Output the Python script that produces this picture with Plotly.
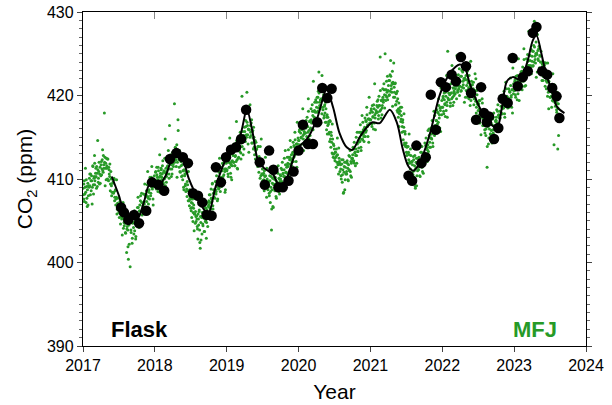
import datetime as dt
import plotly.graph_objects as go

# ---------------- data ----------------
# MFJ observations: per year, one list per month.
# Set A sampled every 3 days from day 1, set B every 3 days from day 2.
mfj_2017 = [
    [408.9, 407.6, 409.8, 408.2, 411.3, 407.2, 409.1, 406.7, 409.5, 408.0],
    [409.0, 410.6, 408.1, 409.8, 410.4, 407.0, 411.6, 409.3, 410.1, 412.8],
    [411.9, 410.2, 411.3, 408.9, 410.7, 414.6, 409.6, 410.9, 409.4, 411.4],
    [410.4, 412.1, 411.2, 413.5, 410.8, 411.7, 417.9, 412.6, 411.3, 409.9],
    [411.6, 410.0, 412.4, 409.8, 411.1, 410.3, 408.6, 410.9, 409.2, 408.4],
    [409.5, 408.3, 410.1, 407.4, 408.6, 406.9, 407.8, 405.8, 407.1, 406.3],
    [406.9, 405.4, 407.3, 404.6, 406.0, 405.2, 403.3, 405.7, 404.1, 404.8],
    [404.8, 403.6, 405.9, 401.2, 404.3, 403.9, 400.4, 404.5, 405.3, 399.5],
    [403.9, 405.1, 402.3, 404.7, 405.6, 403.4, 406.2, 404.9, 402.8, 405.8],
    [405.3, 406.6, 407.8, 405.1, 404.2, 406.9, 407.4, 406.1, 408.3, 405.7],
    [406.8, 408.2, 407.3, 409.4, 406.5, 407.9, 408.6, 406.2, 410.9, 407.7],
    [408.4, 409.7, 410.2, 408.0, 409.3, 411.5, 408.8, 407.6, 410.0, 409.1],
]
mfj_2017_b = [
    [408.1, 409.4, 407.3, 409.0, 408.4, 409.9, 407.7, 408.7, 406.9, 409.2],
    [410.1, 409.2, 410.6, 408.6, 409.8, 409.0, 411.5, 408.2, 410.3, 409.3],
    [409.8, 410.7, 410.3, 411.5, 409.1, 411.1, 410.1, 412.0, 410.6, 409.5],
    [411.7, 410.5, 412.3, 411.0, 412.8, 411.3, 412.0, 409.2, 411.9, 412.5],
    [411.3, 412.4, 409.9, 411.4, 410.6, 411.8, 409.4, 410.0, 408.0, 410.1],
    [409.6, 408.4, 409.9, 407.8, 408.7, 407.6, 409.9, 406.4, 407.7, 406.6],
    [406.0, 406.7, 406.1, 407.1, 405.5, 406.4, 405.3, 407.2, 405.6, 404.4],
    [404.7, 403.5, 405.3, 404.0, 405.8, 401.9, 405.0, 402.2, 404.9, 405.5],
    [403.6, 404.9, 402.9, 404.8, 404.2, 405.8, 403.8, 404.9, 403.1, 405.5],
    [405.9, 405.1, 406.6, 404.9, 406.2, 405.8, 408.0, 404.9, 407.2, 406.3],
    [406.2, 407.2, 407.0, 408.1, 405.9, 408.1, 407.3, 409.3, 407.9, 407.0],
    [408.7, 407.6, 409.5, 408.3, 410.2, 409.0, 409.7, 406.9, 409.7, 410.4],
]
mfj_2018 = [
    [409.6, 410.8, 409.1, 411.4, 410.2, 408.5, 411.0, 409.8, 412.9, 410.4],
    [411.3, 409.9, 410.6, 412.2, 409.4, 411.0, 410.1, 414.8, 410.7, 409.6],
    [410.9, 412.3, 411.6, 413.4, 410.6, 416.4, 411.9, 412.8, 410.3, 411.2],
    [413.2, 411.8, 412.9, 419.0, 412.4, 413.7, 411.5, 414.1, 412.0, 417.1],
    [412.6, 411.4, 413.0, 410.8, 412.1, 410.3, 411.7, 409.9, 411.0, 408.7],
    [410.4, 409.2, 408.5, 410.7, 407.9, 409.3, 407.4, 408.6, 406.8, 407.7],
    [407.6, 406.2, 405.4, 407.1, 404.9, 406.5, 403.8, 405.8, 404.7, 405.5],
    [405.6, 404.3, 402.8, 405.2, 406.1, 403.9, 401.7, 404.8, 405.5, 403.4],
    [404.6, 406.0, 405.3, 403.7, 406.6, 405.0, 402.9, 406.3, 407.2, 405.8],
    [406.9, 408.1, 407.2, 405.9, 408.8, 407.6, 409.4, 406.8, 408.3, 411.2],
    [408.5, 409.7, 408.2, 410.4, 409.1, 407.6, 410.0, 408.9, 412.5, 409.4],
    [410.0, 411.4, 409.6, 411.9, 410.3, 412.8, 409.8, 410.9, 408.7, 411.2],
]
mfj_2018_b = [
    [409.6, 410.9, 408.8, 410.5, 409.9, 411.4, 409.2, 410.2, 408.4, 410.7],
    [411.1, 410.2, 411.6, 409.6, 410.8, 410.0, 412.5, 409.2, 411.3, 410.3],
    [410.6, 411.5, 411.2, 412.4, 410.1, 412.2, 411.2, 412.9, 411.7, 410.6],
    [412.7, 411.5, 413.3, 412.0, 413.8, 412.3, 413.0, 410.2, 412.9, 415.8],
    [412.3, 413.4, 410.9, 412.4, 411.6, 412.8, 410.4, 411.0, 409.0, 411.1],
    [410.6, 409.4, 410.9, 408.8, 409.7, 408.6, 410.9, 407.4, 408.7, 407.6],
    [406.5, 407.2, 406.6, 407.6, 406.0, 406.9, 405.8, 407.7, 406.1, 404.9],
    [405.2, 404.0, 405.8, 404.5, 406.3, 402.4, 405.5, 402.7, 405.4, 406.0],
    [404.4, 405.8, 403.7, 405.5, 404.9, 406.5, 404.8, 406.0, 404.3, 406.7],
    [407.4, 406.6, 408.1, 406.4, 407.7, 407.3, 409.5, 406.4, 408.7, 407.8],
    [407.7, 408.7, 408.5, 409.6, 407.4, 409.6, 408.8, 410.8, 409.4, 408.5],
    [410.2, 409.1, 411.0, 409.8, 411.7, 410.5, 411.2, 408.4, 411.2, 411.9],
]
mfj_2019 = [
    [411.0, 412.3, 410.6, 412.8, 411.4, 414.9, 411.9, 410.2, 412.1, 411.6],
    [413.1, 412.0, 414.2, 411.6, 412.7, 413.5, 416.9, 412.3, 411.2, 413.8],
    [413.4, 414.9, 413.8, 415.6, 413.1, 414.3, 419.9, 414.7, 412.9, 415.2],
    [416.2, 414.8, 417.0, 415.3, 420.4, 416.4, 414.2, 415.9, 418.1, 415.0],
    [416.4, 415.2, 417.1, 414.3, 415.8, 413.6, 415.0, 412.9, 414.6, 413.4],
    [413.6, 412.4, 411.5, 413.9, 410.8, 412.2, 410.1, 411.7, 414.8, 410.6],
    [411.2, 409.8, 410.7, 408.6, 410.3, 412.6, 409.3, 407.8, 410.0, 409.1],
    [409.6, 408.3, 410.4, 407.2, 409.0, 403.9, 408.7, 410.1, 406.6, 409.3],
    [408.8, 410.2, 409.4, 407.7, 410.9, 409.1, 411.6, 408.5, 410.0, 409.7],
    [410.0, 411.3, 409.7, 412.0, 410.6, 408.9, 411.1, 410.3, 413.4, 410.8],
    [411.4, 412.6, 411.9, 413.5, 410.8, 412.3, 414.6, 411.7, 412.9, 412.1],
    [413.0, 414.4, 412.6, 413.9, 415.6, 413.3, 412.1, 414.2, 416.8, 413.7],
]
mfj_2019_b = [
    [411.1, 412.4, 410.3, 412.0, 411.4, 412.9, 410.7, 411.7, 409.9, 412.2],
    [412.8, 412.0, 413.5, 411.6, 412.8, 412.1, 414.6, 411.3, 413.4, 412.5],
    [412.6, 413.6, 413.3, 414.6, 412.4, 414.6, 413.9, 415.7, 414.5, 413.6],
    [415.7, 414.5, 416.3, 415.0, 416.8, 415.3, 416.0, 413.2, 415.9, 418.9],
    [415.6, 416.7, 414.3, 415.7, 414.9, 416.2, 413.8, 414.4, 412.4, 414.4],
    [413.6, 412.4, 413.9, 411.8, 412.7, 411.6, 413.9, 410.4, 411.7, 410.6],
    [409.8, 410.5, 409.9, 411.0, 409.4, 410.4, 409.5, 411.3, 409.8, 408.7],
    [409.2, 408.0, 409.8, 408.5, 410.3, 406.4, 409.5, 406.7, 409.4, 410.0],
    [408.6, 409.9, 407.9, 409.7, 409.1, 410.7, 408.9, 410.1, 408.2, 410.5],
    [410.4, 409.6, 411.1, 409.4, 410.7, 410.3, 412.5, 409.4, 411.7, 410.8],
    [410.7, 411.7, 411.5, 412.6, 410.4, 412.6, 411.8, 413.8, 412.4, 411.5],
    [413.2, 412.1, 414.0, 412.8, 414.7, 413.5, 414.2, 411.4, 414.2, 414.9],
]
mfj_2020 = [
    [414.6, 415.7, 414.1, 416.3, 415.0, 413.5, 415.9, 418.4, 414.8, 415.4],
    [415.5, 416.8, 416.1, 414.7, 417.4, 416.3, 419.6, 415.8, 416.9, 415.2],
    [417.0, 418.4, 416.7, 418.9, 417.6, 421.7, 416.9, 418.2, 417.3, 419.5],
    [418.6, 419.8, 418.1, 420.5, 422.8, 419.2, 418.4, 420.9, 419.6, 417.8],
    [419.5, 418.3, 420.1, 417.6, 418.9, 416.8, 418.4, 415.9, 417.7, 416.4],
    [416.6, 415.4, 414.5, 416.9, 413.8, 415.2, 413.1, 414.8, 412.6, 414.0],
    [413.6, 412.2, 413.2, 411.4, 412.8, 414.9, 411.7, 410.6, 412.5, 411.9],
    [411.7, 410.4, 412.3, 409.6, 411.1, 408.3, 410.8, 412.0, 409.9, 410.6],
    [410.9, 412.2, 411.3, 409.8, 412.8, 411.0, 413.4, 410.4, 411.9, 412.4],
    [412.5, 413.8, 412.2, 414.4, 413.1, 411.6, 413.6, 412.8, 415.6, 413.3],
    [414.4, 415.6, 414.9, 416.5, 413.8, 415.3, 417.6, 414.7, 415.9, 415.1],
    [416.0, 417.3, 415.6, 416.9, 418.6, 416.3, 415.1, 417.2, 419.8, 416.7],
]
mfj_2020_b = [
    [414.6, 415.9, 413.8, 415.5, 414.9, 416.4, 414.2, 415.2, 413.4, 415.7],
    [416.3, 415.5, 417.0, 415.1, 416.3, 415.6, 418.1, 414.8, 416.9, 416.0],
    [416.1, 417.1, 416.8, 418.1, 415.9, 418.1, 417.4, 419.2, 418.0, 417.1],
    [419.2, 418.0, 419.8, 418.5, 420.3, 418.8, 419.5, 416.7, 419.4, 422.4],
    [418.6, 419.7, 417.3, 418.7, 417.9, 419.2, 416.8, 417.4, 415.4, 417.4],
    [416.9, 415.6, 417.0, 414.8, 415.6, 414.4, 416.6, 413.0, 414.2, 413.0],
    [412.5, 413.2, 412.6, 413.6, 412.0, 412.9, 411.8, 413.7, 412.1, 410.9],
    [411.2, 410.0, 411.8, 410.5, 412.3, 408.4, 411.5, 408.7, 411.4, 412.0],
    [410.6, 411.9, 409.9, 411.7, 411.1, 412.7, 410.9, 412.1, 410.2, 412.5],
    [412.9, 412.1, 413.6, 411.9, 413.2, 412.8, 415.0, 411.9, 414.2, 413.3],
    [413.7, 414.7, 414.5, 415.6, 413.4, 415.6, 414.8, 416.8, 415.4, 414.5],
    [416.2, 415.1, 417.0, 415.8, 417.7, 416.5, 417.2, 414.4, 417.2, 417.9],
]
mfj_2021 = [
    [417.1, 418.2, 416.6, 418.8, 417.5, 416.0, 418.4, 421.4, 417.3, 417.9],
    [418.0, 419.3, 418.6, 417.2, 419.9, 418.8, 424.6, 418.3, 419.4, 417.7],
    [419.5, 420.8, 419.2, 421.4, 420.1, 425.0, 419.4, 420.7, 419.8, 422.3],
    [420.6, 421.8, 420.1, 422.5, 424.2, 421.2, 420.4, 422.9, 421.6, 419.8],
    [421.0, 419.8, 421.5, 418.9, 420.3, 418.2, 419.6, 417.4, 419.1, 417.8],
    [418.1, 416.9, 417.6, 415.6, 416.8, 414.7, 416.2, 414.1, 415.7, 413.9],
    [414.3, 412.8, 413.9, 411.9, 413.2, 415.4, 412.0, 411.2, 412.8, 412.1],
    [412.1, 410.9, 412.7, 410.2, 411.6, 409.1, 411.3, 412.5, 410.4, 411.0],
    [411.4, 412.6, 411.8, 410.3, 413.2, 411.5, 413.9, 410.9, 412.4, 412.9],
    [413.0, 414.3, 412.7, 414.9, 413.6, 412.1, 414.1, 413.3, 416.0, 413.8],
    [414.9, 416.1, 415.4, 417.0, 414.3, 415.8, 418.1, 415.2, 416.4, 415.6],
    [417.0, 418.3, 416.6, 417.9, 419.6, 417.3, 416.1, 418.2, 420.9, 417.7],
]
mfj_2021_b = [
    [417.1, 418.4, 416.3, 418.0, 417.4, 418.9, 416.7, 417.7, 415.9, 418.2],
    [418.8, 418.0, 419.5, 417.6, 418.8, 418.1, 420.6, 417.3, 419.4, 418.5],
    [418.8, 419.8, 419.5, 420.7, 418.5, 420.7, 420.0, 421.7, 420.4, 419.5],
    [421.2, 420.0, 421.8, 420.5, 422.3, 420.8, 421.5, 418.7, 421.4, 423.9],
    [420.4, 421.4, 418.9, 420.2, 419.3, 420.5, 418.0, 418.4, 416.3, 418.2],
    [418.6, 417.2, 418.6, 416.3, 417.1, 415.7, 417.8, 414.3, 415.4, 414.0],
    [413.2, 413.8, 413.1, 413.9, 412.3, 412.9, 411.9, 413.6, 412.0, 410.7],
    [411.7, 410.5, 412.3, 411.0, 412.8, 408.9, 412.0, 409.2, 411.9, 412.5],
    [411.1, 412.4, 410.4, 412.2, 411.6, 413.2, 411.4, 412.6, 410.7, 413.0],
    [413.1, 412.4, 414.0, 412.4, 413.8, 413.5, 415.8, 412.8, 415.2, 414.4],
    [413.8, 414.9, 414.8, 416.0, 413.9, 416.2, 415.5, 417.6, 416.3, 415.5],
    [417.0, 416.0, 418.0, 416.8, 418.8, 417.7, 418.5, 415.7, 418.6, 419.4],
]
mfj_2022 = [
    [418.6, 419.7, 418.1, 420.3, 419.0, 417.5, 419.9, 422.4, 418.8, 425.3],
    [419.5, 420.8, 420.1, 418.7, 421.4, 420.3, 423.6, 419.8, 420.9, 419.2],
    [420.5, 421.9, 420.2, 422.4, 421.1, 424.8, 420.4, 421.7, 420.8, 423.2],
    [421.1, 422.3, 420.6, 423.0, 424.4, 421.7, 420.9, 423.4, 422.1, 419.8],
    [422.4, 421.2, 422.9, 420.3, 421.7, 419.6, 421.0, 418.8, 424.1, 420.5],
    [421.3, 420.1, 420.8, 418.9, 420.2, 422.6, 419.3, 417.9, 420.6, 419.0],
    [418.9, 417.6, 419.4, 416.7, 418.1, 415.3, 417.8, 419.6, 416.4, 417.2],
    [417.1, 415.9, 417.7, 415.2, 416.6, 411.4, 416.3, 417.5, 414.9, 416.0],
    [415.4, 416.6, 415.8, 414.3, 417.2, 415.5, 417.9, 414.9, 416.4, 416.9],
    [417.0, 418.3, 416.7, 418.9, 417.6, 416.1, 418.1, 417.3, 420.0, 417.8],
    [418.4, 419.6, 418.9, 420.5, 417.8, 419.3, 421.6, 418.7, 419.9, 419.1],
    [419.5, 420.8, 419.1, 420.4, 422.1, 419.8, 418.6, 420.7, 423.3, 420.2],
]
mfj_2022_b = [
    [418.6, 419.9, 417.8, 419.5, 418.9, 420.4, 418.2, 419.2, 417.4, 419.7],
    [420.3, 419.5, 421.0, 419.1, 420.3, 419.6, 422.1, 418.8, 420.9, 420.0],
    [420.3, 421.2, 420.8, 422.0, 419.6, 421.6, 420.6, 422.5, 421.1, 420.0],
    [421.7, 420.5, 422.3, 421.0, 422.8, 421.3, 422.0, 419.2, 421.9, 423.5],
    [420.6, 421.9, 419.8, 421.5, 420.9, 422.4, 420.2, 421.2, 419.4, 421.7],
    [421.3, 420.3, 421.6, 419.6, 420.6, 419.7, 422.0, 418.6, 420.1, 419.2],
    [418.2, 419.0, 418.4, 419.4, 417.8, 418.2, 417.4, 419.1, 417.5, 416.4],
    [416.7, 415.5, 417.3, 416.0, 417.8, 413.9, 417.0, 414.2, 416.9, 417.5],
    [415.4, 416.7, 414.7, 416.5, 415.9, 417.4, 415.3, 416.3, 414.6, 417.0],
    [417.4, 416.6, 418.1, 416.4, 417.7, 417.3, 419.5, 416.4, 418.7, 417.8],
    [417.8, 418.8, 418.5, 419.6, 417.4, 419.6, 418.8, 420.8, 419.4, 418.5],
    [419.7, 418.6, 420.5, 419.3, 421.2, 420.0, 420.7, 417.9, 420.7, 421.4],
]
mfj_2023 = [
    [420.6, 421.7, 420.1, 422.3, 421.0, 419.5, 421.9, 424.4, 420.8, 421.4],
    [421.5, 422.8, 422.1, 420.7, 423.4, 422.3, 425.6, 421.8, 422.9, 421.2],
    [423.0, 424.4, 422.7, 424.9, 423.6, 427.7, 422.9, 424.2, 423.3, 425.5],
    [424.1, 425.3, 423.6, 426.0, 428.9, 424.7, 423.9, 426.4, 425.1, 422.8],
    [425.4, 424.2, 425.9, 423.3, 424.7, 422.6, 424.0, 421.8, 423.5, 422.3],
    [423.6, 422.4, 421.1, 423.9, 420.8, 422.2, 419.9, 421.7, 418.4, 420.6],
    [421.2, 419.8, 420.7, 418.6, 420.3, 422.6, 419.3, 414.1, 420.0, 419.1],
    [419.6, 418.3, 420.4, 413.6, 419.0],
]
mfj_2023_b = [
    [420.6, 421.9, 419.8, 421.5, 420.9, 422.4, 420.2, 421.2, 419.4, 421.7],
    [422.1, 421.3, 422.9, 421.1, 422.4, 421.7, 424.3, 421.1, 423.2, 422.4],
    [422.3, 423.3, 423.0, 424.1, 422.8, 423.6, 423.2, 424.8, 423.6, 422.6],
    [424.7, 423.5, 425.3, 424.0, 425.8, 424.3, 425.0, 422.2, 424.9, 427.3],
    [424.4, 425.6, 423.3, 424.8, 424.0, 425.3, 423.0, 423.8, 421.8, 424.0],
    [423.6, 422.4, 423.9, 421.8, 422.7, 421.6, 423.9, 420.4, 421.7, 420.6],
    [419.8, 420.5, 419.9, 421.0, 419.4, 420.4, 419.5, 421.3, 419.8, 418.7],
    [419.2, 418.0, 419.8, 418.5, 415.2],
]
mfj_years = [2017, 2018, 2019, 2020, 2021, 2022, 2023]
mfj_set_a = [mfj_2017, mfj_2018, mfj_2019, mfj_2020, mfj_2021, mfj_2022, mfj_2023]
mfj_set_b = [mfj_2017_b, mfj_2018_b, mfj_2019_b, mfj_2020_b, mfj_2021_b, mfj_2022_b, mfj_2023_b]
sample_step_days = 3

# Flask samples (decimal year, ppm)
flask_x = [2017.53, 2017.57, 2017.63, 2017.71, 2017.78, 2017.88, 2017.96, 2018.05, 2018.13,
           2018.21, 2018.30, 2018.39, 2018.46, 2018.53, 2018.60, 2018.66, 2018.72, 2018.79,
           2018.85, 2018.92, 2018.99, 2019.06, 2019.13, 2019.20, 2019.27, 2019.46, 2019.53,
           2019.59, 2019.65, 2019.72, 2019.78, 2019.86, 2019.93, 2020.00, 2020.06, 2020.13,
           2020.20, 2020.26, 2020.33, 2020.40, 2020.46,
           2021.53, 2021.58, 2021.64, 2021.71, 2021.77, 2021.84, 2021.91, 2021.98, 2022.05,
           2022.13, 2022.19, 2022.26, 2022.33, 2022.40, 2022.47, 2022.54, 2022.58, 2022.62,
           2022.65, 2022.72, 2022.78, 2022.84, 2022.91, 2022.98, 2023.05, 2023.12, 2023.19,
           2023.26, 2023.31, 2023.39, 2023.46, 2023.53, 2023.59, 2023.63]
flask_y = [406.6, 406.0, 405.1, 405.7, 404.7, 406.2, 409.6, 409.3, 408.6,
           412.4, 413.1, 412.6, 411.9, 408.3, 408.0, 407.2, 405.7, 405.6,
           411.4, 409.6, 412.6, 413.5, 413.8, 414.8, 418.3, 412.0, 409.3,
           413.4, 411.1, 409.0, 409.0, 409.8, 410.9, 413.4, 416.5, 414.2,
           414.2, 416.8, 420.9, 419.7, 420.8,
           410.4, 409.8, 414.0, 411.9, 412.6, 420.1, 415.9, 421.6, 421.0,
           422.5, 421.7, 424.6, 423.5, 420.3, 417.1, 421.0, 417.9, 416.8,
           417.5, 414.8, 416.1, 419.6, 419.1, 424.5, 421.1, 422.2, 422.9,
           427.5, 428.2, 422.9, 422.5, 420.9, 419.9, 417.3]

# Smooth fit curve through flask data (decimal year, ppm)
fit_x = [2017.40, 2017.50, 2017.56, 2017.66, 2017.75, 2017.85, 2017.93, 2018.05, 2018.15,
         2018.28, 2018.38, 2018.47, 2018.55, 2018.65, 2018.74, 2018.85, 2019.00, 2019.18,
         2019.28, 2019.36, 2019.43, 2019.52, 2019.64, 2019.74, 2019.84, 2019.98, 2020.12,
         2020.26, 2020.39, 2020.48, 2020.57, 2020.67, 2020.75, 2020.85, 2020.95, 2021.03,
         2021.13, 2021.27, 2021.37, 2021.45, 2021.53, 2021.60, 2021.69, 2021.83, 2021.97,
         2022.11, 2022.24, 2022.31, 2022.38, 2022.47, 2022.56, 2022.66, 2022.76, 2022.83,
         2022.90, 2022.98, 2023.08, 2023.18, 2023.26, 2023.31, 2023.38, 2023.44, 2023.52,
         2023.60, 2023.70]
fit_y = [410.3, 408.0, 406.4, 405.4, 405.1, 407.3, 409.4, 409.2, 410.4,
         413.1, 412.5, 410.1, 408.5, 406.8, 405.8, 409.2, 412.6, 415.0,
         418.3, 415.6, 412.4, 411.3, 410.6, 409.1, 410.2, 413.6, 414.8,
         417.3, 420.7, 418.6, 415.5, 413.8, 413.5, 415.0, 416.2, 416.8,
         416.7, 418.3, 416.7, 413.6, 411.5, 411.0, 412.0, 415.5, 420.2,
         422.7, 423.7, 423.4, 421.5, 419.5, 417.9, 416.7, 416.1, 418.6,
         421.7, 422.2, 421.9, 423.9, 426.6, 427.2, 425.0, 422.7, 420.7,
         418.6, 417.9]

x_ticks = [2017, 2018, 2019, 2020, 2021, 2022, 2023, 2024]
y_ticks = [390, 400, 410, 420, 430]

# ---------------- build MFJ x positions from sampling dates ----------------
def decimal_year(d):
    start = dt.date(d.year, 1, 1)
    n = (dt.date(d.year + 1, 1, 1) - start).days
    return d.year + ((d - start).days + 0.5) / n

mfj_x, mfj_y = [], []
for first_day, blocks in ((1, mfj_set_a), (2, mfj_set_b)):
    for yr, block in zip(mfj_years, blocks):
        for mi, vals in enumerate(block):
            for j, v in enumerate(vals):
                d = dt.date(yr, mi + 1, first_day) + dt.timedelta(days=sample_step_days * j)
                mfj_x.append(decimal_year(d))
                mfj_y.append(v)

GREEN = "#279a27"
FONT = "Liberation Sans, Arial, Helvetica, sans-serif"

fig = go.Figure()
fig.add_trace(go.Scatter(x=mfj_x, y=mfj_y, mode="markers",
                         marker=dict(size=3, color=GREEN, line=dict(width=0)),
                         name="MFJ", showlegend=False))
fig.add_trace(go.Scatter(x=fit_x, y=fit_y, mode="lines",
                         line=dict(color="black", width=2, shape="spline", smoothing=0.9),
                         showlegend=False))
fig.add_trace(go.Scatter(x=flask_x, y=flask_y, mode="markers",
                         marker=dict(size=10.5, color="black", line=dict(width=0)),
                         name="Flask", showlegend=False))
# helper trace for top axis with inward ticks
fig.add_trace(go.Scatter(x=[2017], y=[390], xaxis="x2", mode="markers",
                         marker=dict(opacity=0), showlegend=False, hoverinfo="skip"))

fig.update_layout(
    width=612, height=405,
    margin=dict(l=83, r=26, t=12, b=59, autoexpand=False),
    paper_bgcolor="white", plot_bgcolor="white",
    font=dict(family=FONT, size=16, color="black"),
    xaxis=dict(range=[2017, 2024], tickvals=x_ticks, ticktext=[str(t) for t in x_ticks],
               showline=True, linecolor="black", linewidth=1.3, automargin=False,
               ticks="outside", ticklen=5, tickcolor="#444", tickwidth=1,
               tickfont=dict(size=16),
               showgrid=False, zeroline=False,
               title=dict(text="Year", font=dict(size=21), standoff=10)),
    xaxis2=dict(range=[2017, 2024], overlaying="x", side="top", tickvals=x_ticks,
                showticklabels=False, ticks="inside", ticklen=7, tickcolor="#888",
                tickwidth=1, showline=True, linecolor="black", linewidth=1.3,
                automargin=False, showgrid=False, zeroline=False),
    yaxis=dict(range=[390, 430], tickvals=y_ticks, automargin=False,
               showline=True, linecolor="black", linewidth=1.3, mirror="ticks",
               ticks="outside", ticklen=5, tickcolor="#444", tickwidth=1,
               tickfont=dict(size=16),
               minor=dict(dtick=1, ticks="outside", ticklen=3, tickcolor="#666"),
               showgrid=False, zeroline=False,
               title=dict(text="CO<sub>2</sub> (ppm)", font=dict(size=21), standoff=8)),
    annotations=[
        dict(x=2017.36, y=390.2, xref="x", yref="y", text="<b>Flask</b>", showarrow=False,
             xanchor="left", yanchor="bottom", font=dict(size=22, color="black", family=FONT)),
        dict(x=2023.63, y=390.2, xref="x", yref="y", text="<b>MFJ</b>", showarrow=False,
             xanchor="right", yanchor="bottom", font=dict(size=22, color=GREEN, family=FONT)),
    ],
)

fig.write_html("out.html", config={"displayModeBar": False},
               post_script="document.body.style.margin='0';")
